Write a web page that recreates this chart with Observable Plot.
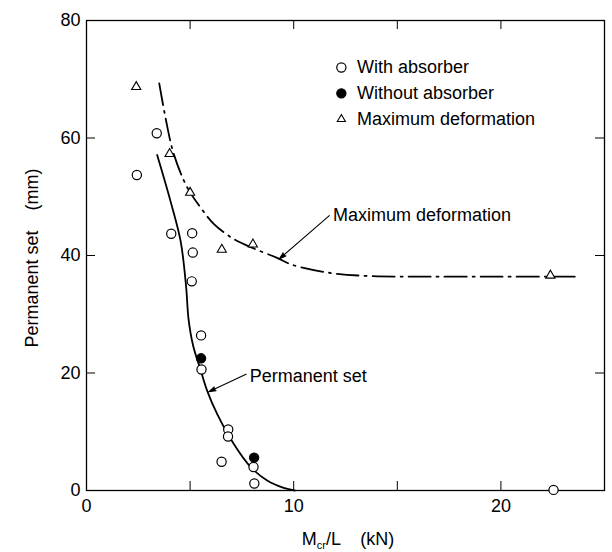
<!DOCTYPE html>
<html>
<head>
<meta charset="utf-8">
<script src="https://cdn.jsdelivr.net/npm/d3@7"></script>
<script src="https://cdn.jsdelivr.net/npm/@observablehq/plot@0.6"></script>
<style>
  html, body { margin: 0; padding: 0; background: #fff; }
  #chart svg { display: block; }
</style>
</head>
<body>
<div id="chart"></div>
<script>
// ---- data ----
const withAbsorberX = [2.43, 3.39, 4.09, 5.10, 5.13, 5.08, 5.53, 5.55, 6.84, 6.83, 6.52, 8.06, 8.10, 22.54];
const withAbsorberY = [53.7, 60.8, 43.7, 43.8, 40.5, 35.6, 26.4, 20.6, 10.4, 9.2, 4.9, 4.0, 1.2, 0.1];
const withoutAbsorberX = [5.53, 8.09];
const withoutAbsorberY = [22.5, 5.6];
const maxDefX = [2.40, 4.01, 5.00, 6.53, 8.03, 22.39];
const maxDefY = [68.7, 57.3, 50.7, 41.0, 41.9, 36.6];

const permCurveX = [3.41, 4.05, 4.54, 4.80, 4.93, 5.15, 5.50, 5.82, 6.31, 7.11, 7.92, 8.72, 9.52, 10.05];
const permCurveY = [57.1, 49.3, 42.5, 35.0, 29.0, 24.6, 20.6, 17.0, 13.0, 7.9, 4.0, 1.7, 0.45, 0];
const maxCurveX = [3.51, 3.81, 4.21, 4.86, 5.50, 6.14, 7.11, 8.07, 9.20, 9.94, 11.83, 13.71, 16.5, 20.0, 23.8];
const maxCurveY = [69.3, 63.5, 57.3, 51.6, 48.2, 45.4, 42.8, 41.2, 39.6, 38.4, 37.0, 36.5, 36.4, 36.4, 36.4];

const xTickLabels = [0, 10, 20];
const yTickLabels = [0, 20, 40, 60, 80];
const xInnerTicks = [5, 10, 15, 20];
const yInnerTicks = [20, 40, 60];

const legendLabels = ["With absorber", "Without absorber", "Maximum deformation"];
const legendY = [72.0, 67.6, 63.2];
const legendSymbolX = 12.3;
const legendTextX = 13.05;

const annotationTexts = ["Maximum deformation", "Permanent set"];
const annotationTextX = [11.9, 7.88];
const annotationTextY = [46.8, 19.4];
const arrowX1 = [11.72, 7.70];
const arrowY1 = [46.8, 19.8];
const arrowX2 = [9.30, 5.90];
const arrowY2 = [39.4, 16.8];

const xLabelMain = "M";
const xLabelSub = "cr";
const xLabelRest = "/L    (kN)";
const yLabel = "Permanent set    (mm)";

// ---- build ----
const W = 612, H = 552, mL = 86, mR = 8, mT = 20, mB = 62;
const fw = W - mL - mR, fh = H - mT - mB;
const font = "'Liberation Sans', Arial, Helvetica, sans-serif";

const withPts = withAbsorberX.map((x, i) => ({x, y: withAbsorberY[i]}));
const withoutPts = withoutAbsorberX.map((x, i) => ({x, y: withoutAbsorberY[i]}));
const maxPts = maxDefX.map((x, i) => ({x, y: maxDefY[i]}));
const permCurve = permCurveX.map((x, i) => ({x, y: permCurveY[i]}));
const maxCurve = maxCurveX.map((x, i) => ({x, y: maxCurveY[i]}));
const legend = legendLabels.map((t, i) => ({t, y: legendY[i], i}));
const annotations = annotationTexts.map((t, i) => ({t, x: annotationTextX[i], y: annotationTextY[i]}));
const arrows = arrowX1.map((x1, i) => ({x1, y1: arrowY1[i], x2: arrowX2[i], y2: arrowY2[i]}));

const svg = Plot.plot({
  width: W, height: H,
  marginLeft: mL, marginRight: mR, marginTop: mT, marginBottom: mB,
  style: {fontFamily: font, fontSize: "18px", color: "black", background: "white", overflow: "visible"},
  x: {domain: [0, 25], ticks: xTickLabels, tickSize: 0, tickPadding: 9, label: null, tickFormat: d => String(d)},
  y: {domain: [0, 80], ticks: yTickLabels, tickSize: 0, tickPadding: 6, label: null, tickFormat: d => String(d)},
  marks: [
    // inward ticks
    Plot.ruleX(xInnerTicks, {x: d => d, insetTop: fh - 9, stroke: "black", strokeWidth: 1}),
    Plot.ruleX(xInnerTicks, {x: d => d, insetBottom: fh - 9, stroke: "black", strokeWidth: 1}),
    Plot.ruleY(yInnerTicks, {y: d => d, insetRight: fw - 9, stroke: "black", strokeWidth: 1}),
    Plot.ruleY(yInnerTicks, {y: d => d, insetLeft: fw - 9, stroke: "black", strokeWidth: 1}),
    Plot.frame({stroke: "black", strokeWidth: 1.3}),
    // curves
    Plot.line(permCurve, {x: "x", y: "y", curve: "catmull-rom", stroke: "black", strokeWidth: 1.8}),
    Plot.line(maxCurve, {x: "x", y: "y", curve: "catmull-rom", stroke: "black", strokeWidth: 1.8, strokeDasharray: "22,6,2,6"}),
    // points
    Plot.dot(maxPts, {x: "x", y: "y", symbol: "triangle", r: 3.4, stroke: "black", strokeWidth: 1.1, fill: "white"}),
    Plot.dot(withPts, {x: "x", y: "y", r: 4.6, stroke: "black", strokeWidth: 1.2, fill: "white"}),
    Plot.dot(withoutPts, {x: "x", y: "y", r: 4.6, stroke: "black", strokeWidth: 1.2, fill: "black"}),
    // legend
    Plot.dot(legend.filter(d => d.i === 0), {x: () => legendSymbolX, y: "y", r: 4.6, stroke: "black", strokeWidth: 1.2, fill: "white"}),
    Plot.dot(legend.filter(d => d.i === 1), {x: () => legendSymbolX, y: "y", r: 4.6, stroke: "black", strokeWidth: 1.2, fill: "black"}),
    Plot.dot(legend.filter(d => d.i === 2), {x: () => legendSymbolX, y: "y", symbol: "triangle", r: 3, stroke: "black", strokeWidth: 1.1, fill: "white"}),
    Plot.text(legend, {x: () => legendTextX, y: "y", text: "t", textAnchor: "start", fontSize: 18, fill: "black"}),
    // annotations
    Plot.text(annotations, {x: "x", y: "y", text: "t", textAnchor: "start", fontSize: 18, fill: "black"}),
    Plot.arrow(arrows, {x1: "x1", y1: "y1", x2: "x2", y2: "y2", headLength: 10, headAngle: 32, stroke: "black", fill: "black", strokeWidth: 1.1})
  ]
});

// axis titles with subscript
const s = d3.select(svg);
const xs = svg.scale("x"), ys = svg.scale("y");
const cx = (xs.apply(0) + xs.apply(25)) / 2 + 3;
const xt = s.append("text")
  .attr("x", cx).attr("y", 545)
  .attr("text-anchor", "middle")
  .attr("fill", "black")
  .style("white-space", "pre")
  .style("font-family", font)
  .style("font-size", "18px");
xt.append("tspan").text(xLabelMain);
xt.append("tspan").attr("dy", 4).style("font-size", "11px").text(xLabelSub);
xt.append("tspan").attr("dy", -4).text(xLabelRest);

const cy = (ys.apply(0) + ys.apply(80)) / 2 + 3;
s.append("text")
  .attr("transform", `translate(38,${cy}) rotate(-90)`)
  .attr("text-anchor", "middle")
  .attr("fill", "black")
  .style("white-space", "pre")
  .style("font-family", font)
  .style("font-size", "18px")
  .text(yLabel);

document.getElementById("chart").appendChild(svg);
</script>
</body>
</html>
